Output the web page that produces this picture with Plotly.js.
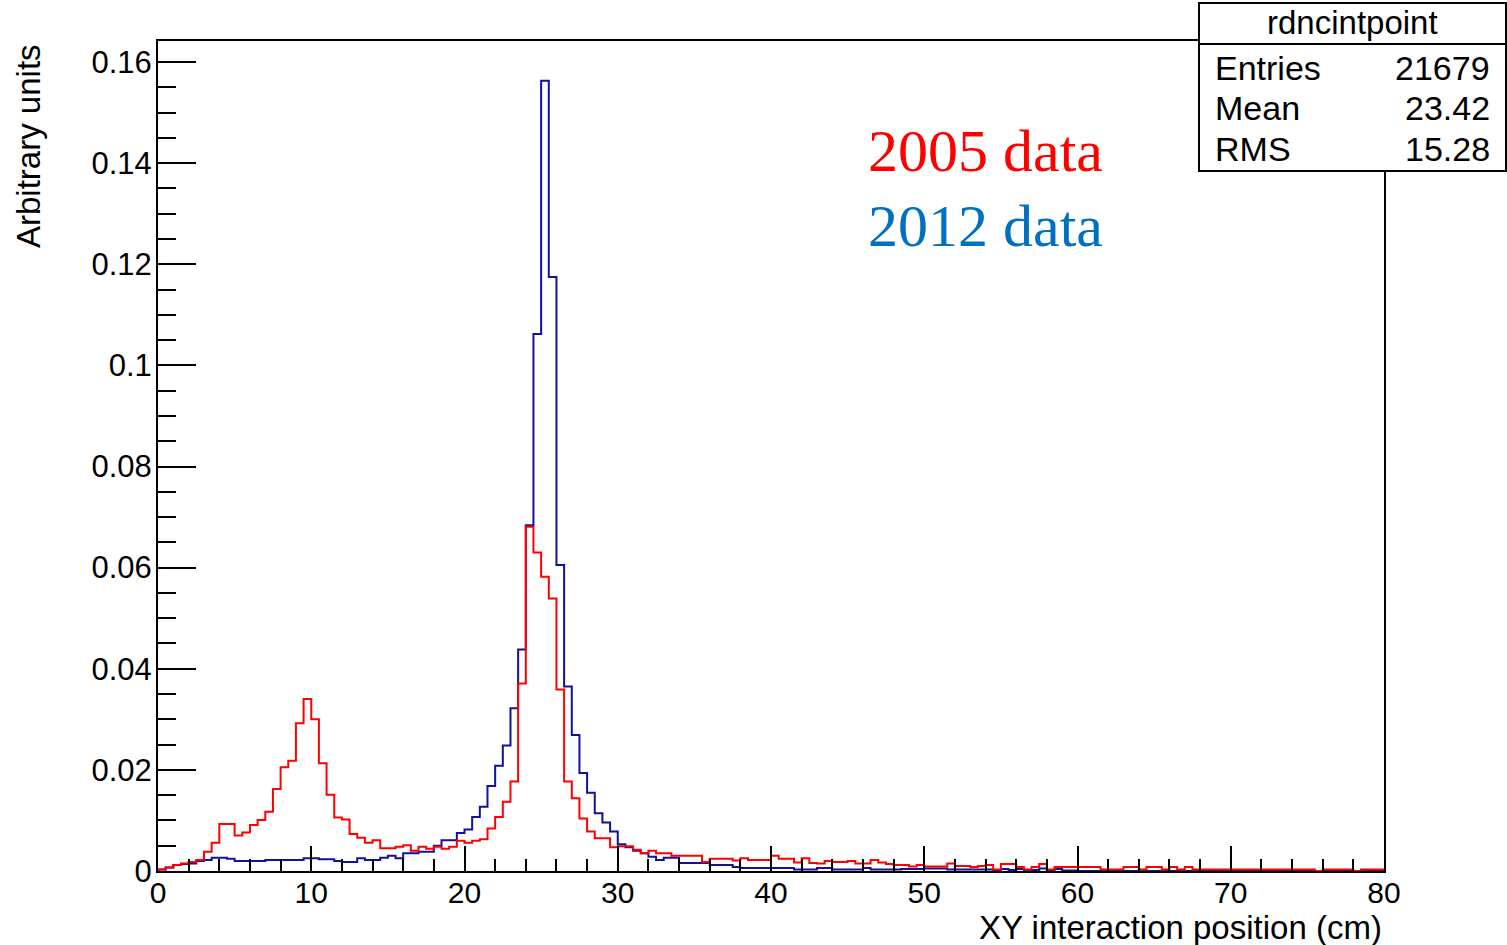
<!DOCTYPE html>
<html>
<head>
<meta charset="utf-8">
<script src="https://cdn.plot.ly/plotly-3.0.1.min.js"></script>
<style>html,body{margin:0;padding:0;background:#fff;}#chart{width:1507px;height:945px;}</style>
</head>
<body>
<div id="chart"></div>
<script>
// ---- data (bins of 0.5 cm from 0 to 80 cm) ----
const xMin = 0;
const xMax = 80;
const binWidth = 0.5;

// 2005 data (red)
const red2005 = [
  0.0003, 0.0007, 0.0012, 0.0015, 0.0018, 0.0022, 0.0038, 0.0056, 0.0093, 0.0093,
  0.0070, 0.0076, 0.0091, 0.0101, 0.0117, 0.0162, 0.0205, 0.0218, 0.0292, 0.0340,
  0.0300, 0.0213, 0.0151, 0.0106, 0.0102, 0.0073, 0.0066, 0.0056, 0.0061, 0.0045,
  0.0045, 0.0048, 0.0051, 0.0040, 0.0048, 0.0044, 0.0048, 0.0044, 0.0048, 0.0060,
  0.0056, 0.0060, 0.0063, 0.0084, 0.0107, 0.0137, 0.0177, 0.0371, 0.0681, 0.0630,
  0.0582, 0.0539, 0.0359, 0.0177, 0.0144, 0.0104, 0.0078, 0.0065, 0.0065, 0.0047,
  0.0049, 0.0049, 0.0042, 0.0035, 0.0040, 0.0035, 0.0035, 0.0030, 0.0030, 0.0030,
  0.0030, 0.0018, 0.0024, 0.0024, 0.0024, 0.0021, 0.0025, 0.0022, 0.0022, 0.0022,
  0.0030, 0.0024, 0.0024, 0.0017, 0.0025, 0.0016, 0.0015, 0.0020, 0.0018, 0.0018,
  0.0020, 0.0015, 0.0015, 0.0022, 0.0017, 0.0014, 0.0012, 0.0012, 0.0009, 0.0012,
  0.0009, 0.0009, 0.0009, 0.0015, 0.0010, 0.0010, 0.0008, 0.0010, 0.0012, 0.0003,
  0.0014, 0.0014, 0.0008, 0.0003, 0.0008, 0.0014, 0.0003, 0.0008, 0.0008, 0.0008,
  0.0008, 0.0008, 0.0008, 0.0003, 0.0003, 0.0003, 0.0008, 0.0008, 0.0003, 0.0008,
  0.0008, 0.0003, 0.0008, 0.0003, 0.0008, 0.0003, 0.0003, 0.0003, 0.0003, 0.0003,
  0.0003, 0.0003, 0.0003, 0.0003, 0.0003, 0.0003, 0.0003, 0.0003, 0.0003, 0.0003,
  0.0003, 0.0000, 0.0003, 0.0003, 0.0003, 0.0003, 0.0000, 0.0003, 0.0003, 0.0003
];

// 2012 data (blue)
const blue2012 = [
  0.0003, 0.0007, 0.0012, 0.0014, 0.0015, 0.0020, 0.0022, 0.0026, 0.0026, 0.0024,
  0.0020, 0.0020, 0.0020, 0.0020, 0.0022, 0.0022, 0.0022, 0.0022, 0.0022, 0.0025,
  0.0025, 0.0023, 0.0023, 0.0020, 0.0018, 0.0018, 0.0025, 0.0022, 0.0022, 0.0026,
  0.0030, 0.0025, 0.0035, 0.0035, 0.0038, 0.0038, 0.0050, 0.0061, 0.0061, 0.0075,
  0.0082, 0.0107, 0.0127, 0.0168, 0.0208, 0.0248, 0.0322, 0.0438, 0.0684, 0.1062,
  0.1563, 0.1175, 0.0605, 0.0365, 0.0269, 0.0194, 0.0155, 0.0114, 0.0096, 0.0078,
  0.0053, 0.0047, 0.0040, 0.0035, 0.0028, 0.0022, 0.0026, 0.0026, 0.0016, 0.0016,
  0.0016, 0.0016, 0.0012, 0.0012, 0.0012, 0.0008, 0.0006, 0.0006, 0.0006, 0.0006,
  0.0006, 0.0006, 0.0006, 0.0003, 0.0003, 0.0003, 0.0006, 0.0006, 0.0003, 0.0003,
  0.0003, 0.0003, 0.0006, 0.0003, 0.0003, 0.0003, 0.0003, 0.0004, 0.0004, 0.0004,
  0.0005, 0.0005, 0.0005, 0.0003, 0.0003, 0.0003, 0.0003, 0.0003, 0.0003, 0.0002,
  0.0004, 0.0002, 0.0004, 0.0002, 0.0002, 0.0005, 0.0002, 0.0004, 0.0001, 0.0001,
  0, 0, 0, 0, 0, 0, 0, 0, 0, 0,
  0, 0, 0, 0, 0, 0, 0, 0, 0, 0,
  0, 0, 0, 0, 0, 0, 0, 0, 0, 0,
  0, 0, 0, 0, 0, 0, 0, 0, 0, 0
];

const xTickVals = [0, 10, 20, 30, 40, 50, 60, 70, 80];
const yTickVals = [0, 0.02, 0.04, 0.06, 0.08, 0.1, 0.12, 0.14, 0.16];
const yTickText = ["0", "0.02", "0.04", "0.06", "0.08", "0.1", "0.12", "0.14", "0.16"];

const statsTitle = "rdncintpoint";
const statsLabels = ["Entries", "Mean", "RMS"];
const statsValues = ["21679", "23.42", "15.28"];

const legendTexts = ["2005 data", "2012 data"];
const xTitle = "XY interaction position (cm)";
const yTitle = "Arbitrary units";

// ---- build step outlines ----
function stepTrace(vals) {
  const xs = [xMin], ys = [0];
  for (let i = 0; i < vals.length; i++) {
    xs.push(xMin + i * binWidth);
    ys.push(vals[i]);
  }
  xs.push(xMin + vals.length * binWidth);
  ys.push(vals[vals.length - 1]);
  return {xs, ys};
}

const W = 1507, H = 945;
const L = 158, R = 1384, T = 41, B = 871;
const yMax = 0.16 * (B - T) / (B - 62);
const px = v => (v - L) / (R - L);
const py = v => (B - v) / (B - T);

const sRed = stepTrace(red2005);
const sBlue = stepTrace(blue2012);

const traces = [
  {x: sBlue.xs, y: sBlue.ys, type: 'scatter', mode: 'lines', line: {shape: 'hv', color: '#11119c', width: 2}, hoverinfo: 'skip', showlegend: false},
  {x: sRed.xs, y: sRed.ys, type: 'scatter', mode: 'lines', line: {shape: 'hv', color: '#ff0000', width: 2}, hoverinfo: 'skip', showlegend: false}
];

const fontFam = 'Liberation Sans, Arial, sans-serif';
const serif = 'Liberation Serif, Times New Roman, serif';

const annotations = [
  {xref: 'paper', yref: 'paper', x: px(866), y: py(151), xanchor: 'left', yanchor: 'middle', text: legendTexts[0], showarrow: false, font: {family: serif, size: 60, color: '#ff0000'}},
  {xref: 'paper', yref: 'paper', x: px(866), y: py(226), xanchor: 'left', yanchor: 'middle', text: legendTexts[1], showarrow: false, font: {family: serif, size: 60, color: '#0070c0'}},
  {xref: 'paper', yref: 'paper', x: px(1384), y: py(927), xanchor: 'right', yanchor: 'middle', text: xTitle, showarrow: false, font: {family: fontFam, size: 33, color: '#000'}},
  {xref: 'paper', yref: 'paper', x: px(28), y: py(42), xanchor: 'center', yanchor: 'top', textangle: -90, text: yTitle, showarrow: false, font: {family: fontFam, size: 33, color: '#000'}},
  {xref: 'paper', yref: 'paper', x: px(1352), y: py(23), xanchor: 'center', yanchor: 'middle', text: statsTitle, showarrow: false, font: {family: fontFam, size: 33, color: '#000'}}
];
const rowY = [68, 108, 149];
for (let i = 0; i < statsLabels.length; i++) {
  annotations.push({xref: 'paper', yref: 'paper', x: px(1213), y: py(rowY[i]), xanchor: 'left', yanchor: 'middle', text: statsLabels[i], showarrow: false, font: {family: fontFam, size: 34, color: '#000'}});
  annotations.push({xref: 'paper', yref: 'paper', x: px(1492), y: py(rowY[i]), xanchor: 'right', yanchor: 'middle', text: statsValues[i], showarrow: false, font: {family: fontFam, size: 34, color: '#000'}});
}

const shapes = [
  {type: 'rect', xref: 'paper', yref: 'paper', x0: px(1199), x1: px(1506), y0: py(171), y1: py(3), line: {color: '#000', width: 2}, fillcolor: '#fff', layer: 'above'},
  {type: 'line', xref: 'paper', yref: 'paper', x0: px(1199), x1: px(1506), y0: py(44), y1: py(44), line: {color: '#000', width: 2}, layer: 'above'}
];

const layout = {
  width: W, height: H,
  margin: {l: L, r: W - R, t: T, b: H - B, pad: 0},
  paper_bgcolor: '#fff', plot_bgcolor: '#fff',
  showlegend: false,
  font: {family: fontFam, color: '#000'},
  xaxis: {
    range: [xMin, xMax], showgrid: false, zeroline: false,
    showline: true, mirror: true, linecolor: '#000', linewidth: 2,
    ticks: 'inside', ticklen: 25, tickwidth: 2, tickcolor: '#000',
    tickmode: 'array', tickvals: xTickVals, ticktext: xTickVals.map(String),
    tickfont: {family: fontFam, size: 30, color: '#000'},
    ticklabelstandoff: -6,
    minor: {dtick: 2, tick0: 0, ticks: 'inside', ticklen: 12, tickwidth: 2, tickcolor: '#000', showgrid: false},
    fixedrange: true
  },
  yaxis: {
    range: [0, yMax], showgrid: false, zeroline: false,
    showline: true, mirror: true, linecolor: '#000', linewidth: 2,
    ticks: 'inside', ticklen: 38, tickwidth: 2, tickcolor: '#000',
    tickmode: 'array', tickvals: yTickVals, ticktext: yTickText,
    tickfont: {family: fontFam, size: 31, color: '#000'},
    ticklabelstandoff: -2,
    minor: {dtick: 0.005, tick0: 0, ticks: 'inside', ticklen: 18, tickwidth: 2, tickcolor: '#000', showgrid: false},
    fixedrange: true
  },
  annotations: annotations,
  shapes: shapes
};

Plotly.newPlot('chart', traces, layout, {displayModeBar: false, staticPlot: true});
</script>
</body>
</html>
